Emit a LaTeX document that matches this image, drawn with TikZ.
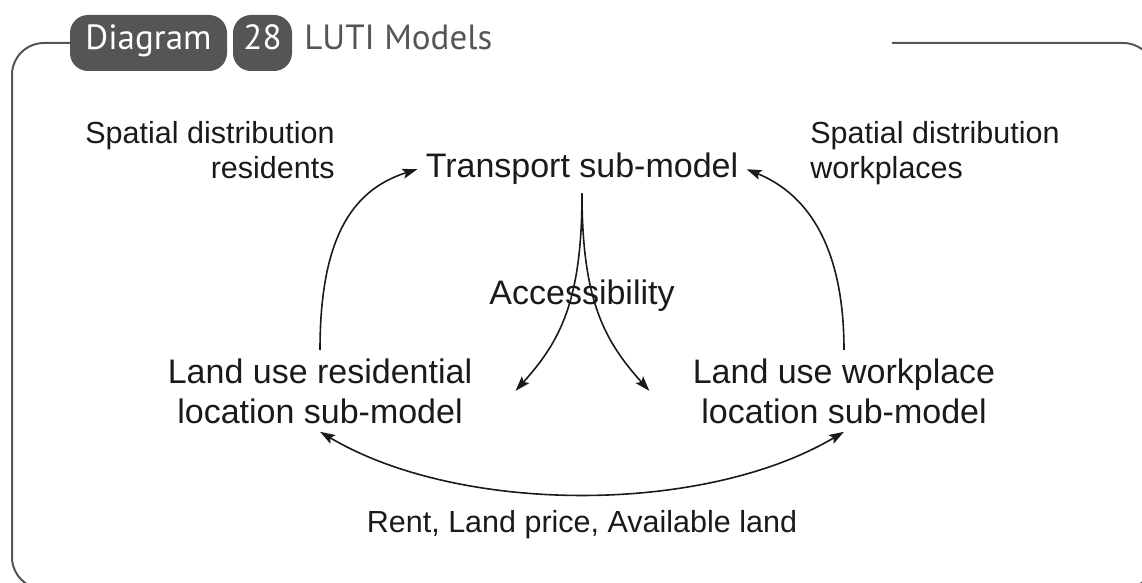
\documentclass[tikz,border=0pt]{standalone}
\usepackage{fontspec}
\setmainfont{Liberation Sans}
\newfontfamily\headfont{PT Sans}
\usepackage{xcolor}
\usetikzlibrary{arrows.meta}
\definecolor{hdgray}{HTML}{555555}
\definecolor{txtgray}{HTML}{1A1A1A}

\begin{document}
\begin{tikzpicture}
	[x=0.5pt, y=-0.5pt,
	 >={Stealth[length=7.5pt,width=5pt,inset=1.5pt]},
	 model/.style={font=\fontsize{17}{20}\selectfont, text=txtgray, align=center, inner sep=4pt},
	 flow/.style={font=\fontsize{15.25}{17.5}\selectfont, text=txtgray, inner sep=0pt},
	 pill/.style={fill=hdgray, text=white, rounded corners=9pt, minimum height=28pt, inner sep=0pt,
	              text height=0.7em, text depth=0pt, font=\headfont\fontsize{17.5}{20}\selectfont},
	 link/.style={draw=txtgray, line width=0.8pt, ->}]

	\useasboundingbox (0,0) rectangle (1142,583);
	\clip (0,0) rectangle (1142,583);

	% frame
	\draw[hdgray, line width=1pt, rounded corners=16pt]
		(892,43) -- (1155,43) -- (1155,589) -- (12,589) -- (12,43) -- (72,43);

	% header
	\node[pill, minimum width=78.5pt] (diag) at (148.5,43) {Diagram};
	\node[pill, minimum width=29.5pt] (num) at (262.5,43) {28};
	\node[anchor=west, inner sep=0pt, text=hdgray, text height=0.7em, text depth=0pt,
	      font=\headfont\fontsize{17.5}{20}\selectfont] (title) at (304,43) {LUTI Models};

	% sub-models
	\node[model, anchor=base] (trans) at (582,178) {Transport sub-model};
	\node[model, anchor=north] (resid) at (320,350) {Land use residential\\location sub-model};
	\node[model, anchor=north] (work) at (844,350) {Land use workplace\\location sub-model};

	% flows
	\node[flow, anchor=north east, align=right] (spres) at (335,121) {Spatial distribution\\residents};
	\node[flow, anchor=north west, align=left] (spwork) at (810,121) {Spatial distribution\\workplaces};
	\node[model, anchor=base] (access) at (582,305) {Accessibility};
	\node[flow, anchor=base] (rent) at (582,532) {Rent, Land price, Available land};

	% feedback to transport
	\draw[link] (resid.north) .. controls +(0,-109) and +(-67,21) .. (trans.west);
	\draw[link] (work.north) .. controls +(0,-99) and +(64,26) .. (trans.east);

	% accessibility
	\draw[link] (trans.south) .. controls +(0,107) and +(45,-50) .. ([xshift=17.5pt]resid.east);
	\draw[link] (trans.south) .. controls +(0,107) and +(-45,-50) .. ([xshift=-17.5pt]work.west);

	% land market
	\draw[link, <->] (resid.south) .. controls +(140,83) and +(-140,83) .. (work.south);

\end{tikzpicture}
\end{document}
